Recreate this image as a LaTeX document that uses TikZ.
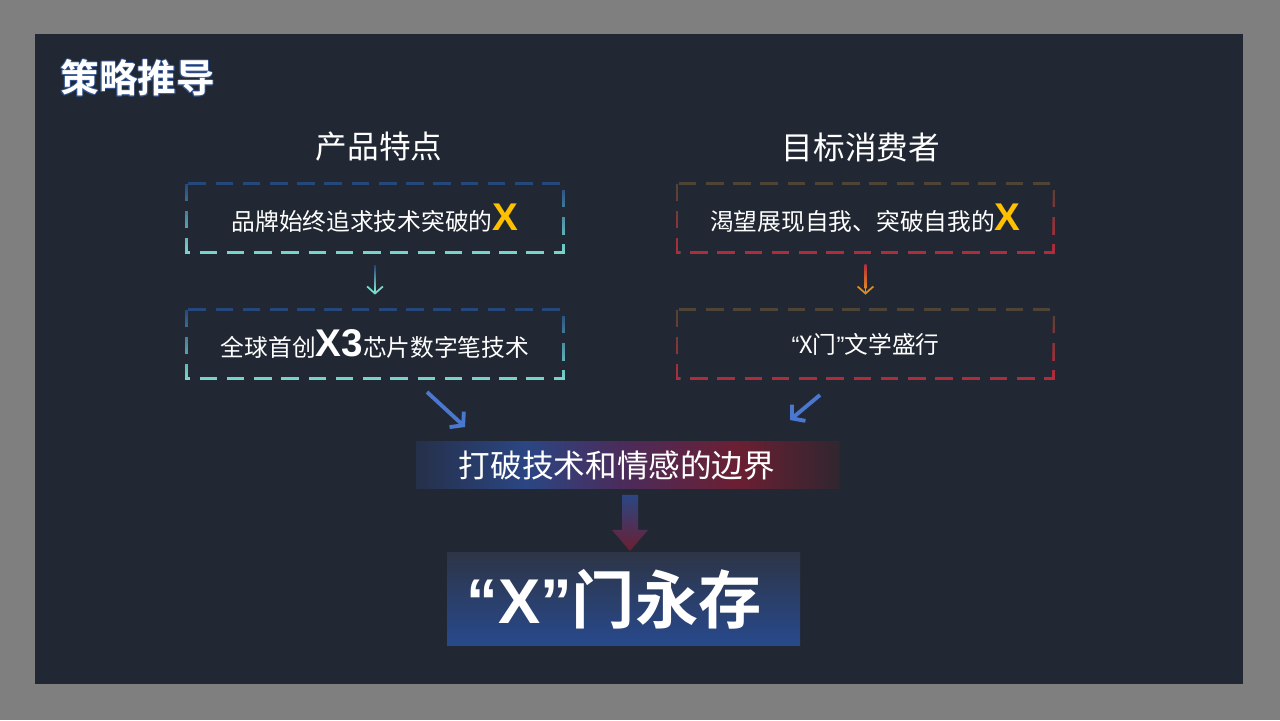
\documentclass[tikz,border=0pt]{standalone}
\usepackage{fontspec}
\setmainfont{Noto Sans CJK SC}[BoldFont={Noto Sans CJK SC Bold}]
\newfontfamily\lat{Liberation Sans}
\usetikzlibrary{positioning,calc,fadings,arrows.meta}

\definecolor{pagegray}{HTML}{7F7F7F}
\definecolor{panel}{HTML}{222833}
\definecolor{titleglow}{HTML}{34548F}
\definecolor{tealtop}{HTML}{25467A}
\definecolor{tealbot}{HTML}{78D8CC}
\definecolor{redtop}{HTML}{4D4535}
\definecolor{redbot}{HTML}{B42C3C}
\definecolor{orangehead}{HTML}{E08A22}
\definecolor{xgold}{HTML}{FFC000}
\definecolor{arrowblue}{HTML}{4A78D0}
\definecolor{bandl}{HTML}{25304A}
\definecolor{bandblue}{HTML}{2B4683}
\definecolor{bandpurple}{HTML}{4A2C5C}
\definecolor{bandred}{HTML}{6B1F32}
\definecolor{bandr}{HTML}{30262F}
\definecolor{xtop}{HTML}{2D3547}
\definecolor{xbot}{HTML}{28498C}

\tikzfading[name=fadedown, top color=transparent!100, bottom color=transparent!0]

\pgfdeclarehorizontalshading{bandshade}{100bp}{color(0bp)=(bandl); color(25bp)=(bandl); color(38bp)=(bandblue); color(49bp)=(bandpurple); color(63bp)=(bandred); color(75bp)=(bandr); color(100bp)=(bandr)}

\begin{document}
\begin{tikzpicture}[
  dashbox/.style={line width=1.5pt, dash pattern=on 10pt off 5.5pt},
  boxtext/.style={text=white, font=\fontsize{13.5}{16}\selectfont, minimum width=7.52cm, minimum height=1.36cm, inner sep=0pt},
  head/.style={text=white, font=\fontsize{18}{21}\selectfont},
  smallarrow/.style={line width=1pt, -{Straight Barb[length=4pt,width=9pt]}},
  bluearrow/.style={draw=arrowblue, line width=2.2pt, -{Straight Barb[length=5pt,width=12pt]}}
]

  %page and panel
  \useasboundingbox (0,0) rectangle (25.6,14.4);
  \fill[pagegray] (0,0) rectangle (25.6,14.4);
  \fill[panel] (0.7,0.72) rectangle (24.86,13.72);

  %title
  \foreach \a in {0,45,...,315}{
      \node[anchor=west, inner sep=0pt, text=titleglow, font=\bfseries\fontsize{22}{26}\selectfont] at ($(1.2,12.84)+(\a:0.5pt)$) {策略推导};
  }
  \node[anchor=west, inner sep=0pt, text=white, font=\bfseries\fontsize{22}{26}\selectfont] (title) at (1.2,12.84) {策略推导};

  %headings
  \node[head] (h1) at (7.58,11.46) {产品特点};
  \node[head] (h2) at (17.22,11.46) {目标消费者};

  %boxes
  \node[boxtext] (b1) at (7.5,10.04) {品牌始终追求技术突破的{\lat\bfseries\fontsize{22}{22}\selectfont\color{xgold}X}};
  \node[boxtext] (b2) at (7.5,7.52) {全球首创{\lat\bfseries\fontsize{22}{22}\selectfont X3}芯片数字笔技术\hspace{0.28cm}};
  \node[boxtext] (b3) at (17.31,10.04) {渴望展现自我、突破自我的{\lat\bfseries\fontsize{22}{22}\selectfont\color{xgold}X}};
  \node[boxtext] (b4) at (17.31,7.52) {{\lat “}X门{\lat ”}文学盛行\hspace{0.38cm}};

  \foreach \name/\top/\bot in {b1/tealtop/tealbot, b2/tealtop/tealbot, b3/redtop/redbot, b4/redtop/redbot}{
      \draw[dashbox, \top] (\name.north west) rectangle (\name.south east);
      \draw[dashbox, \bot, path fading=fadedown] (\name.north west) rectangle (\name.south east);
  }

  %small arrows
  \draw[smallarrow, tealbot, shorten <=0.26cm, shorten >=0.3cm] (b1.south) -- (b2.north);
  \shade[top color=tealtop, bottom color=tealbot] ($(b1.south)+(-0.5pt,-0.26)$) rectangle ($(b2.north)+(0.5pt,0.42)$);
  \draw[smallarrow, orangehead, shorten <=0.24cm, shorten >=0.3cm] (b3.south) -- (b4.north);
  \shade[top color=redbot, bottom color=orangehead] ($(b3.south)+(-0.5pt,-0.24)$) rectangle ($(b4.north)+(0.5pt,0.42)$);

  %band
  \node[shading=bandshade, minimum width=8.48cm, minimum height=0.94cm, inner sep=0pt] (band) at (12.56,5.09) {};
  \node[head] (bandtxt) at (12.34,5.09) {打破技术和情感的边界};

  %blue arrows
  \coordinate (la1) at (8.54,6.56);
  \coordinate (la2) at (9.3,5.86);
  \coordinate (ra1) at (16.4,6.5);
  \coordinate (ra2) at (15.8,6.0);
  \draw[bluearrow] (la1) -- (la2);
  \draw[bluearrow] (ra1) -- (ra2);

  %result box
  \node[top color=xtop, bottom color=xbot, minimum width=7.06cm, minimum height=1.84cm, inner sep=0pt] (xbox) at (12.47,2.42) {};
  \node[text=white, font=\bfseries\fontsize{36}{40}\selectfont] (xtxt) at (12.28,2.42) {{\lat\bfseries “X”}门永存};

  %down arrow
  \coordinate (dtop) at (12.6,4.5);
  \coordinate (dtip) at (12.6,3.38);
  \shade[top color=bandblue, bottom color=bandred]
      ($(dtop)+(-0.16,0)$) -- ($(dtop)+(0.16,0)$) -- ($(dtip)+(0.16,0.42)$) -- ($(dtip)+(0.36,0.42)$)
      -- (dtip) -- ($(dtip)+(-0.36,0.42)$) -- ($(dtip)+(-0.16,0.42)$) -- cycle;

\end{tikzpicture}
\end{document}
